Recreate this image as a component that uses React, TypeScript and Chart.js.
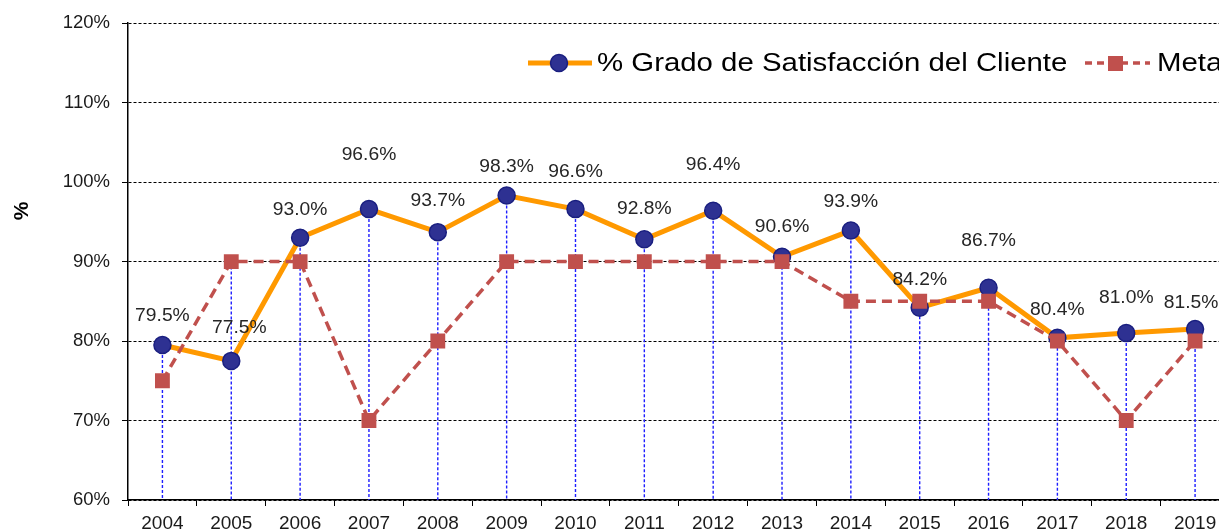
import React, { useEffect, useRef } from "react";
import { Chart, registerables } from "chart.js";

Chart.register(...registerables);

const years = ["2004","2005","2006","2007","2008","2009","2010","2011","2012","2013","2014","2015","2016","2017","2018","2019"];
const satisfaction = [79.5, 77.5, 93.0, 96.6, 93.7, 98.3, 96.6, 92.8, 96.4, 90.6, 93.9, 84.2, 86.7, 80.4, 81.0, 81.5];
const meta = [75, 90, 90, 70, 80, 90, 90, 90, 90, 90, 85, 85, 85, 80, 70, 80];
const yTicks = [60, 70, 80, 90, 100, 110, 120];
const seriesNames = ["% Grado de Satisfacción del Cliente", "Meta"];
const axisTitle = "%";
// label lift above the point (px) and horizontal nudge, as in the reference
const labelLift = [29, 33, 28, 54, 31, 29, 37, 30, 46, 30, 29, 28, 47, 28, 35, 26];
const labelNudge = [0, 8, 0, 0, 0, 0, 0, 0, 0, 0, 0, 0, 0, 0, 0, -4];

const ORANGE = "#FF9900";
const NAVY = "#2E3192";
const NAVY_EDGE = "#1A1F80";
const RED = "#C0504D";
const FONT = "'Liberation Sans', Arial, sans-serif";

const dropLines = {
  id: "dropLines",
  beforeDatasetsDraw(chart: any) {
    const { ctx, chartArea } = chart;
    const y = chart.scales.y;
    const x = chart.scales.x;
    ctx.save();
    ctx.strokeStyle = "#1E1EFF";
    ctx.lineWidth = 1.4;
    ctx.setLineDash([3, 2]);
    years.forEach((_, i) => {
      const top = Math.max(satisfaction[i], meta[i]);
      const px = x.getPixelForValue(i);
      ctx.beginPath();
      ctx.moveTo(px, y.getPixelForValue(top));
      ctx.lineTo(px, chartArea.bottom);
      ctx.stroke();
    });
    ctx.restore();
  },
};

const overlay = {
  id: "overlay",
  afterDatasetsDraw(chart: any) {
    const { ctx } = chart;
    const y = chart.scales.y;
    const x = chart.scales.x;
    ctx.save();
    // data labels
    ctx.fillStyle = "#262626";
    ctx.font = `18px ${FONT}`;
    ctx.textAlign = "center";
    ctx.textBaseline = "middle";
    satisfaction.forEach((v, i) => {
      const px = x.getPixelForValue(i) + labelNudge[i];
      const py = y.getPixelForValue(v) - labelLift[i];
      ctx.save();
      ctx.translate(px, py);
      ctx.scale(1.07, 1);
      ctx.fillText(v.toFixed(1) + "%", 0, 0);
      ctx.restore();
    });

    // legend
    const ly = 63;
    ctx.lineCap = "butt";
    ctx.strokeStyle = ORANGE;
    ctx.lineWidth = 5;
    ctx.setLineDash([]);
    ctx.beginPath();
    ctx.moveTo(528, ly);
    ctx.lineTo(592, ly);
    ctx.stroke();
    ctx.beginPath();
    ctx.arc(559, ly, 8.5, 0, Math.PI * 2);
    ctx.fillStyle = NAVY;
    ctx.fill();
    ctx.lineWidth = 1.5;
    ctx.strokeStyle = NAVY_EDGE;
    ctx.stroke();

    ctx.font = `26px ${FONT}`;
    ctx.textAlign = "left";
    ctx.fillStyle = "#000";
    ctx.save();
    ctx.translate(597, ly + 1);
    ctx.scale(1.13, 1);
    ctx.fillText(seriesNames[0], 0, 0);
    ctx.restore();

    ctx.strokeStyle = RED;
    ctx.lineWidth = 3.5;
    ctx.setLineDash([7, 5]);
    ctx.beginPath();
    ctx.moveTo(1085, ly);
    ctx.lineTo(1150, ly);
    ctx.stroke();
    ctx.setLineDash([]);
    ctx.fillStyle = RED;
    ctx.fillRect(1108, ly - 7, 15, 15);

    ctx.fillStyle = "#000";
    ctx.save();
    ctx.translate(1157, ly + 1);
    ctx.scale(1.13, 1);
    ctx.fillText(seriesNames[1], 0, 0);
    ctx.restore();

    // axis title
    ctx.save();
    ctx.translate(22, 211);
    ctx.rotate(-Math.PI / 2);
    ctx.font = `bold 21px ${FONT}`;
    ctx.textAlign = "center";
    ctx.fillStyle = "#000";
    ctx.fillText(axisTitle, 0, 0);
    ctx.restore();

    ctx.restore();
  },
};

export default function App() {
  const ref = useRef<HTMLCanvasElement | null>(null);
  useEffect(() => {
    if (!ref.current) return;
    const chart = new Chart(ref.current, {
      type: "line",
      data: {
        labels: years,
        datasets: [
          {
            label: seriesNames[0],
            data: satisfaction,
            borderColor: ORANGE,
            borderWidth: 5,
            pointRadius: 8.5,
            pointBackgroundColor: NAVY,
            pointBorderColor: NAVY_EDGE,
            pointBorderWidth: 1.5,
            tension: 0,
            order: 1,
          },
          {
            label: seriesNames[1],
            data: meta,
            borderColor: RED,
            borderWidth: 3.5,
            borderDash: [10, 6],
            pointStyle: "rect",
            pointRadius: 10.5,
            pointBackgroundColor: RED,
            pointBorderColor: RED,
            pointBorderWidth: 0,
            tension: 0,
            order: 0,
          },
        ],
      },
      options: {
        animation: false,
        responsive: false,
        maintainAspectRatio: false,
        layout: { padding: { top: 22, right: 10, left: 0, bottom: 0 } },
        plugins: { legend: { display: false }, tooltip: { enabled: false } },
        scales: {
          x: {
            offset: true,
            afterFit(scale: any) { scale.height = 32; },
            grid: {
              offset: true,
              drawOnChartArea: false,
              drawTicks: true,
              tickLength: 6,
              tickColor: "#000",
              tickWidth: 1,
            },
            border: { display: true, color: "#000", width: 1.5 },
            ticks: {
              color: "#1a1a1a",
              font: { family: FONT, size: 19 },
              padding: 6,
              maxRotation: 0,
              autoSkip: false,
            },
          },
          y: {
            min: 60,
            max: 120,
            afterFit(scale: any) { scale.width = 128; },
            afterBuildTicks(scale: any) { scale.ticks = yTicks.map((v) => ({ value: v })); },
            grid: {
              color: "#000",
              lineWidth: 1,
              drawTicks: true,
              tickLength: 6,
              tickColor: "#000",
              tickBorderDash: [],
              tickWidth: 1,
            },
            border: { display: true, color: "#000", width: 1.5, dash: [3, 2] },
            ticks: {
              color: "#1a1a1a",
              font: { family: FONT, size: 18.5 },
              padding: 12,
              callback: (v: any) => v + "%",
            },
          },
        },
      },
      plugins: [dropLines, overlay],
    });
    return () => chart.destroy();
  }, []);
  return (
    <div style={{ position: "fixed", left: 0, top: 0, width: 1219, height: 532, overflow: "hidden", background: "#fff" }}>
      <canvas ref={ref} width={1240} height={532} style={{ width: 1240, height: 532, display: "block" }} />
    </div>
  );
}
